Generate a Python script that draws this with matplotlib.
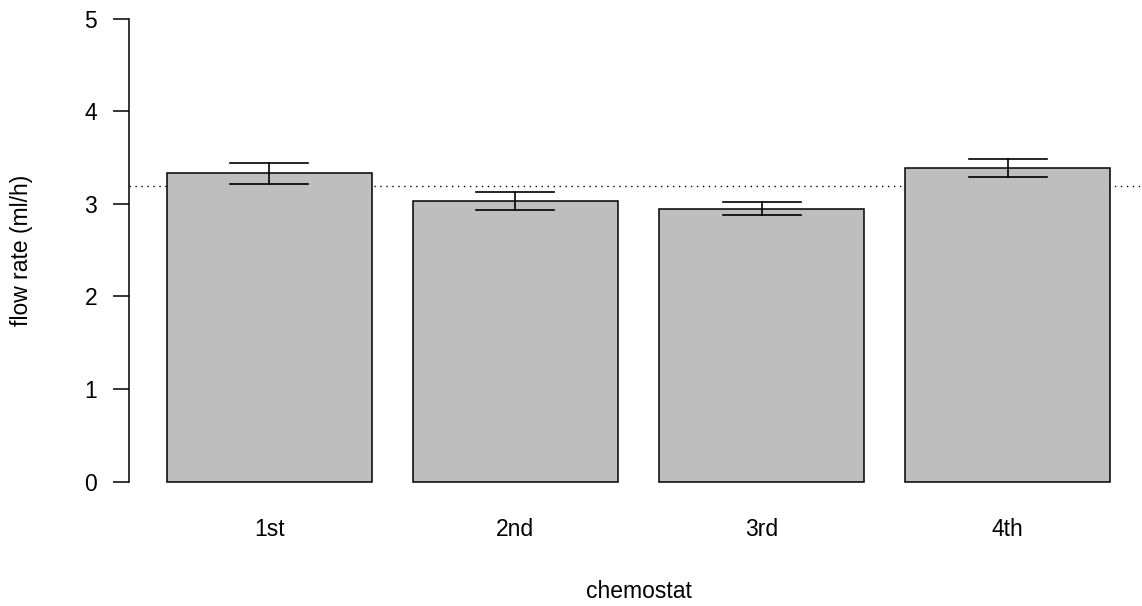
import matplotlib.pyplot as plt

plt.rcParams['font.family'] = ['Liberation Sans', 'DejaVu Sans']

chemostats = ['1st', '2nd', '3rd', '4th']
flow_mean = [3.33, 3.03, 2.95, 3.39]
err_low = [3.22, 2.93, 2.885, 3.29]
err_high = [3.44, 3.13, 3.02, 3.49]
overall_mean = 3.19

# R barplot style positions: width 1, space 0.2
xpos = [0.7 + 1.2 * i for i in range(len(chemostats))]

fig = plt.figure(figsize=(11.42, 6.06), dpi=100)
ax = fig.add_axes([129 / 1142, 105.8 / 606, 1019 / 1142, 500 / 606])

ax.bar(xpos, flow_mean, width=1.0, color='#bebebe', edgecolor='black', linewidth=1.1, zorder=2)
ax.axhline(overall_mean, color='black', linestyle=(0, (1, 3.3)), linewidth=1.0, zorder=1)

for x, lo, hi in zip(xpos, err_low, err_high):
    ax.plot([x, x], [lo, hi], color='black', lw=1.2, zorder=3)
    ax.plot([x - 0.19, x + 0.19], [lo, lo], color='black', lw=1.2, zorder=3)
    ax.plot([x - 0.19, x + 0.19], [hi, hi], color='black', lw=1.2, zorder=3)

ax.set_xlim(0.016, 4.984)
ax.set_ylim(-0.2, 5.2)

for s in ['top', 'right', 'bottom']:
    ax.spines[s].set_visible(False)
ax.spines['left'].set_bounds(0, 5)
ax.spines['left'].set_linewidth(1.1)

fs = 16.5
ax.set_yticks([0, 1, 2, 3, 4, 5])
ax.tick_params(axis='y', length=11.5, width=1.1, pad=11.5, labelsize=fs)
ax.set_xticks(xpos)
ax.set_xticklabels(chemostats)
ax.tick_params(axis='x', length=0, pad=13, labelsize=fs)

ax.set_xlabel('chemostat', fontsize=fs, labelpad=28)
ax.set_ylabel('flow rate (ml/h)', fontsize=fs, labelpad=37)

fig.savefig('out.png', dpi=100)
